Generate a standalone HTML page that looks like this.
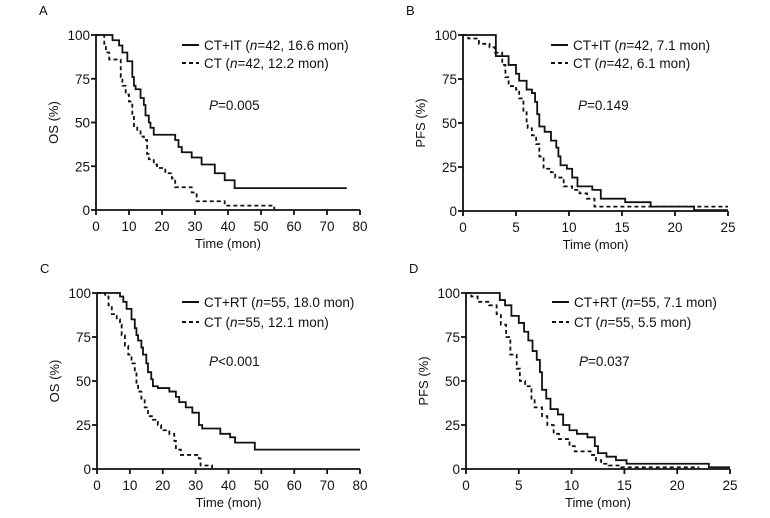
<!DOCTYPE html>
<html><head><meta charset="utf-8"><style>
html,body{margin:0;padding:0;background:#fff;}
svg{display:block;font-family:"Liberation Sans",sans-serif;}
</style></head><body>
<svg id="fig" width="770" height="518" viewBox="0 0 770 518"></svg>
<script>
// Panel A (OS, CT+IT vs CT) step data: [time, survival%]
const aTreat=[[0,100],[5,97],[7,94],[8,90],[9.5,85],[11,76],[11.5,71],[12,69],[13.5,64],[14.5,60],[15,54],[16,50],[16.5,47],[17.5,43],[24,40],[25,36],[26,33],[29,30],[32,26],[36,21],[39,17],[42,12.5],[76,12.5]];
const aCtrl=[[0,100],[2.5,95],[3,90],[4,86],[7.5,76],[8,71],[9,66],[10,62],[11,55],[11.5,48],[12.5,45],[13.5,42],[14.5,40],[15.5,32],[16,29],[17.5,26],[18.5,24],[21,21],[23,18],[24,13],[29,10],[30.5,5],[39,2.5],[54,0.5]];
// Panel B (PFS, CT+IT vs CT)
const bTreat=[[0,100],[3.1,88],[4.3,83],[5,78],[5.3,74],[6,69],[6.5,67],[6.8,62],[7,55],[7.2,48],[7.7,45],[8.3,40],[8.8,36],[9,31],[9.2,26],[9.8,24],[10.3,19],[10.8,14],[12.2,12],[13,7],[15.3,5],[17.7,2.5],[21.8,0.5],[25,0.5]];
const bCtrl=[[0,100],[0.5,98],[1.5,95],[2.5,93],[3,90],[3.7,83],[4,76],[4.3,71],[5,69],[5.3,64],[5.7,57],[6,50],[6.1,47],[6.5,43],[6.9,38],[7.2,31],[7.6,24],[8.3,22],[8.7,19],[9.5,14],[10.3,12],[11,10],[11.7,7],[12.4,2.5],[25,2.5]];
// Panel C (OS, CT+RT vs CT)
const cTreat=[[0,100],[7,98],[8,95],[9,91],[10.5,85],[11.5,80],[12,76],[12.5,73],[13.5,69],[14,65],[15,60],[15.5,55],[16.5,51],[17,47],[18.5,46],[22,44],[24,41],[25,38],[27,35],[29,32],[31,25],[32,23],[37.5,20],[40.5,18],[42,15],[48,11],[54,11],[80,11]];
const cCtrl=[[0,100],[2.5,98],[3.5,93],[4.5,88],[6,85],[7,82],[7.5,76],[8.5,70],[9.5,65],[10.5,60],[11.5,55],[12,49],[12.5,44],[13.5,40],[14.5,35],[15.5,30],[17,28],[18.5,25],[19.5,22],[22,20],[23.5,16],[24,11],[25.5,8],[31,6],[31.5,2],[35,0.5]];
// Panel D (PFS, CT+RT vs CT)
const dTreat=[[0,100],[3.2,96],[3.7,93],[4.3,87],[5,83],[5.5,78],[5.9,73],[6.3,67],[6.7,62],[7,55],[7.2,45],[7.6,40],[8,34],[8.7,31],[9.2,25],[9.8,22],[10.5,20],[11.5,18],[12.2,13],[12.5,9],[13.3,7],[14.2,5],[15.2,3],[23,1],[25,1]];
const dCtrl=[[0,100],[0.5,98],[1.1,95],[2.2,93],[2.9,88],[3.3,82],[3.8,75],[4.2,65],[4.8,57],[5.1,50],[5.6,47],[6.2,40],[6.5,35],[7.2,30],[7.7,25],[8.3,20],[8.8,17],[9.8,13],[10.3,10],[11.8,8],[12.3,5],[12.8,3],[13.5,2],[14.7,1],[22,0.5]];
const yTicks=[0,25,50,75,100];
const xTicksOS=[0,10,20,30,40,50,60,70,80];
const xTicksPFS=[0,5,10,15,20,25];

const NS="http://www.w3.org/2000/svg";
const svg=document.getElementById('fig');
function mk(tag,attrs,parent){const e=document.createElementNS(NS,tag);for(const k in attrs)e.setAttribute(k,attrs[k]);(parent||svg).appendChild(e);return e;}

function panel(cfg){
  const g=mk('g',{});
  
  
  const xs=t=>cfg.x0+(t/cfg.xmax)*(cfg.x1-cfg.x0);
  const ys=s=>cfg.y0-(s/100)*(cfg.y0-cfg.y1);
  const lab=mk('text',{x:cfg.x0-57,y:cfg.y1-20,'font-size':13,fill:'#111'},g);lab.textContent=cfg.letter;
  
  
  const ax=mk('path',{d:`M${cfg.x0},${cfg.y1}V${cfg.y0}H${cfg.x1}`,stroke:'#111','stroke-width':1.8,fill:'none'},g);
  
  
  yTicks.forEach(v=>{
    mk('line',{x1:cfg.x0-5,x2:cfg.x0,y1:ys(v),y2:ys(v),stroke:'#111','stroke-width':1.8},g);
    const t=mk('text',{x:cfg.x0-6,y:ys(v)+5,'text-anchor':'end','font-size':13.5,fill:'#111'},g);t.textContent=v;
    
    
  });
  cfg.xticks.forEach(v=>{
    mk('line',{x1:xs(v),x2:xs(v),y1:cfg.y0,y2:cfg.y0+5,stroke:'#111','stroke-width':1.8},g);
    const t=mk('text',{x:xs(v),y:cfg.y0+21,'text-anchor':'middle','font-size':13.5,fill:'#111'},g);t.textContent=v;
    
    
  });
  const xt=mk('text',{x:(cfg.x0+cfg.x1)/2,y:cfg.y0+38,'text-anchor':'middle','font-size':13,fill:'#111'},g);xt.textContent='Time (mon)';
  
  
  const ymid=(cfg.y0+cfg.y1)/2;
  const yt=mk('text',{x:cfg.x0-38,y:ymid,'text-anchor':'middle','font-size':13,fill:'#111',transform:`rotate(-90 ${cfg.x0-38} ${ymid})`},g);yt.textContent=cfg.ytitle;
  
  
  function step(data,dash,name){
    let d=`M${xs(data[0][0])},${ys(data[0][1])}`;
    for(let i=1;i<data.length;i++){d+=`H${xs(data[i][0])}V${ys(data[i][1])}`;}
    const p=mk('path',{d:d,stroke:'#111','stroke-width':1.8,fill:'none'},g);
    if(dash)p.setAttribute('stroke-dasharray','4,3');
    
    
  }
  step(cfg.treat,false,'curve-treatment');
  step(cfg.ctrl,true,'curve-control');
  const lx=cfg.lx, ly=cfg.ly;
  [[cfg.leg1,false,0],[cfg.leg2,true,1]].forEach(([txt,dash,i])=>{
    const yy=ly+i*(cfg.ldy);
    const l=mk('line',{x1:lx,x2:lx+17,y1:yy,y2:yy,stroke:'#111','stroke-width':1.9},g);
    if(dash)l.setAttribute('stroke-dasharray','4,3');
    const t=mk('text',{x:lx+22,y:yy+5,'font-size':13.5,fill:'#111'},g);
    t.innerHTML=txt;
    
    
  });
  const pt=mk('text',{x:lx+27,y:cfg.py,'font-size':13.5,fill:'#111'},g);
  pt.innerHTML=cfg.ptxt;
  
  
}
const I='<tspan font-style="italic">';
panel({letter:'A',x0:96,x1:360,y0:210,y1:35,xmax:80,xticks:xTicksOS,ytitle:'OS (%)',treat:aTreat,ctrl:aCtrl,lx:182,ly:45,ldy:18,py:110,
  leg1:`CT+IT (${I}n</tspan>=42, 16.6 mon)`,leg2:`CT (${I}n</tspan>=42, 12.2 mon)`,ptxt:`${I}P</tspan>=0.005`});
panel({letter:'B',x0:463,x1:728,y0:211,y1:35,xmax:25,xticks:xTicksPFS,ytitle:'PFS (%)',treat:bTreat,ctrl:bCtrl,lx:551,ly:45,ldy:18,py:110,
  leg1:`CT+IT (${I}n</tspan>=42, 7.1 mon)`,leg2:`CT (${I}n</tspan>=42, 6.1 mon)`,ptxt:`${I}P</tspan>=0.149`});
panel({letter:'C',x0:97,x1:360,y0:469,y1:293,xmax:80,xticks:xTicksOS,ytitle:'OS (%)',treat:cTreat,ctrl:cCtrl,lx:182,ly:302,ldy:20,py:366,
  leg1:`CT+RT (${I}n</tspan>=55, 18.0 mon)`,leg2:`CT (${I}n</tspan>=55, 12.1 mon)`,ptxt:`${I}P</tspan>&lt;0.001`});
panel({letter:'D',x0:466,x1:730,y0:469,y1:293,xmax:25,xticks:xTicksPFS,ytitle:'PFS (%)',treat:dTreat,ctrl:dCtrl,lx:552,ly:302,ldy:20,py:366,
  leg1:`CT+RT (${I}n</tspan>=55, 7.1 mon)`,leg2:`CT (${I}n</tspan>=55, 5.5 mon)`,ptxt:`${I}P</tspan>=0.037`});
</script>
</body></html>
